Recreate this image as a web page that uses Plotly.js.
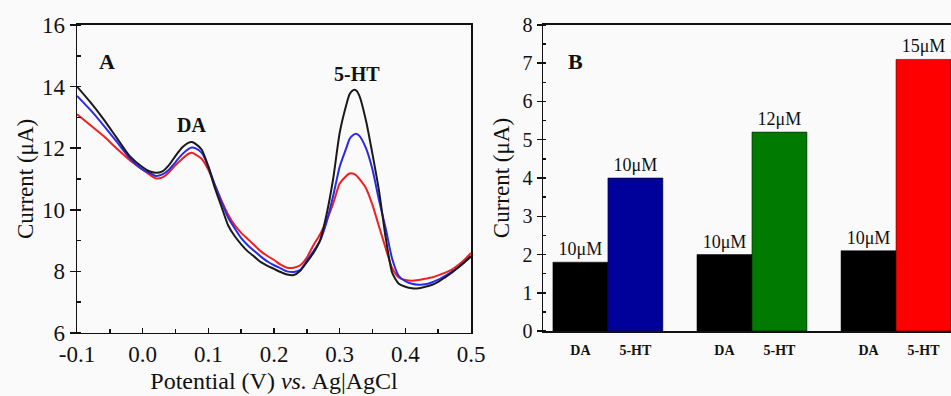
<!DOCTYPE html>
<html>
<head>
<meta charset="utf-8">
<script src="https://cdn.plot.ly/plotly-3.0.1.min.js"></script>
<style>html,body{margin:0;padding:0;background:#fafafa;}#chart{width:951px;height:396px;}</style>
</head>
<body>
<div id="chart"></div>
<script>
// ---- Panel A: DPV curves ----
const potential = [-0.1,-0.08,-0.06,-0.04,-0.02,0.0,0.01,0.02,0.03,0.04,0.05,0.06,0.07,0.075,0.08,0.09,0.1,0.11,0.12,0.13,0.14,0.15,0.16,0.17,0.18,0.19,0.2,0.21,0.22,0.23,0.24,0.25,0.26,0.27,0.28,0.29,0.3,0.31,0.315,0.32,0.325,0.33,0.34,0.35,0.36,0.37,0.38,0.39,0.4,0.41,0.42,0.43,0.44,0.45,0.46,0.47,0.48,0.49,0.5];
const currentBlack = [14.0,13.5,12.95,12.35,11.75,11.38,11.25,11.2,11.25,11.45,11.75,12.02,12.18,12.2,12.15,11.95,11.4,10.7,10.1,9.5,9.15,8.88,8.65,8.48,8.3,8.18,8.08,7.98,7.9,7.88,8.02,8.3,8.6,9.0,9.85,11.0,12.5,13.4,13.75,13.88,13.88,13.7,12.9,11.8,10.6,9.1,7.95,7.6,7.5,7.45,7.45,7.5,7.56,7.66,7.8,7.95,8.12,8.3,8.5];
const currentBlue = [13.7,13.25,12.75,12.22,11.68,11.3,11.2,11.1,11.15,11.3,11.55,11.8,11.98,12.02,12.0,11.85,11.4,10.8,10.25,9.75,9.4,9.08,8.85,8.66,8.48,8.32,8.2,8.1,8.0,7.98,8.05,8.35,8.65,9.0,9.6,10.45,11.4,12.0,12.3,12.42,12.47,12.4,12.0,11.3,10.3,9.4,8.4,7.85,7.68,7.6,7.57,7.58,7.64,7.73,7.85,7.98,8.12,8.3,8.48];
const currentRed = [13.1,12.75,12.4,12.0,11.62,11.3,11.15,11.02,11.05,11.22,11.45,11.65,11.82,11.85,11.8,11.65,11.3,10.8,10.3,9.85,9.5,9.25,9.05,8.85,8.65,8.5,8.37,8.22,8.12,8.12,8.2,8.45,8.85,9.2,9.65,10.2,10.85,11.1,11.18,11.18,11.12,11.0,10.7,10.15,9.45,8.75,8.1,7.8,7.72,7.7,7.72,7.76,7.8,7.87,7.95,8.05,8.2,8.38,8.6];
const potentialTicks = [-0.1, 0.0, 0.1, 0.2, 0.3, 0.4, 0.5];
const potentialTickText = ["-0.1", "0.0", "0.1", "0.2", "0.3", "0.4", "0.5"];

// ---- Panel B: bar chart ----
const groups = [0, 1, 2];
const daValues = [1.8, 2.0, 2.1];
const htValues = [4.0, 5.2, 7.1];
const daLabels = ["10μM", "10μM", "10μM"];
const htLabels = ["10μM", "12μM", "15μM"];
const barCategories = ["DA", "5-HT"];
const htColors = ["#00009a", "#007a00", "#ff0000"];

const serif = '"Liberation Serif", "Times New Roman", serif';
const groupStep = 2.62;
const daX = groups.map(g => g * groupStep - 0.5);
const htX = groups.map(g => g * groupStep + 0.5);
const tickVals = [], tickTexts = [];
groups.forEach((g, i) => { tickVals.push(daX[i], htX[i]); tickTexts.push(barCategories[0], barCategories[1]); });

const lineW = 2;
const traces = [
  {x: potential, y: currentRed, type: 'scatter', mode: 'lines', line: {color: '#ee2020', width: lineW, shape: 'spline', smoothing: 0.6}, xaxis: 'x', yaxis: 'y', hoverinfo: 'skip'},
  {x: potential, y: currentBlue, type: 'scatter', mode: 'lines', line: {color: '#2a2ae6', width: lineW, shape: 'spline', smoothing: 0.6}, xaxis: 'x', yaxis: 'y', hoverinfo: 'skip'},
  {x: potential, y: currentBlack, type: 'scatter', mode: 'lines', line: {color: '#1a1a1a', width: lineW, shape: 'spline', smoothing: 0.6}, xaxis: 'x', yaxis: 'y', hoverinfo: 'skip'},
  {x: daX, y: daValues, type: 'bar', width: 1, marker: {color: '#000000', line: {color: '#000', width: 0.5}},
   text: daLabels, textposition: 'outside', cliponaxis: false, textfont: {family: serif, size: 18, color: '#111'},
   xaxis: 'x2', yaxis: 'y2'},
  {x: htX, y: htValues, type: 'bar', width: 1, marker: {color: htColors, line: {color: '#000', width: 0.5}},
   text: htLabels, textposition: 'outside', cliponaxis: false, textfont: {family: serif, size: 18, color: '#111'},
   xaxis: 'x2', yaxis: 'y2'}
];

const axisCommon = {showgrid: false, zeroline: false, showline: true, linecolor: '#111', linewidth: 1.5, mirror: true,
  ticks: 'outside', ticklen: 6, tickwidth: 1.5, tickcolor: '#111'};

const layout = {
  width: 951, height: 396,
  margin: {l: 0, r: 0, t: 0, b: 0},
  paper_bgcolor: '#fafafa', plot_bgcolor: '#fafafa',
  showlegend: false,
  font: {family: serif, color: '#111'},
  xaxis: Object.assign({}, axisCommon, {
    domain: [0.081, 0.4953], range: [-0.1, 0.5],
    tickmode: 'array', tickvals: potentialTicks, ticktext: potentialTickText,
    ticks: 'inside', ticklen: 5,
    tickfont: {family: serif, size: 23, color: '#111'},
    minor: {dtick: 0.05, ticks: 'inside', ticklen: 4, tickcolor: '#111'},
    title: {text: 'Potential (V) <i>vs.</i> Ag|AgCl', font: {family: serif, size: 24, color: '#111'}, standoff: 6},
    anchor: 'y'
  }),
  yaxis: Object.assign({}, axisCommon, {
    domain: [0.1591, 0.9369], range: [6, 16], dtick: 2,
    tickfont: {family: serif, size: 23, color: '#111'},
    minor: {dtick: 1, ticks: 'inside', ticklen: 4, tickcolor: '#111'},
    title: {text: 'Current (μA)', font: {family: serif, size: 23, color: '#111'}, standoff: 2},
    anchor: 'x'
  }),
  xaxis2: Object.assign({}, axisCommon, {
    domain: [0.571, 1], range: [-1.18, 2 * groupStep + 1.0], ticks: '',
    tickmode: 'array', tickvals: tickVals, ticktext: tickTexts,
    ticklabelstandoff: 6,
    tickfont: {family: serif, size: 14, color: '#111', weight: 'bold'},
    anchor: 'y2'
  }),
  yaxis2: Object.assign({}, axisCommon, {
    domain: [0.1641, 0.9369], range: [0, 8], dtick: 1, ticklen: 5,
    tickfont: {family: serif, size: 20, color: '#111'},
    minor: {dtick: 0.5, ticks: 'inside', ticklen: 3, tickcolor: '#111'},
    title: {text: 'Current (μA)', font: {family: serif, size: 23, color: '#111'}, standoff: 6},
    anchor: 'x2'
  }),
  annotations: [
    {text: '<b>A</b>', xref: 'x domain', yref: 'y domain', x: 0.051, y: 0.929, showarrow: false, font: {family: serif, size: 22, color: '#111'}},
    {text: '<b>DA</b>', xref: 'x', yref: 'y', x: 0.075, y: 12.75, showarrow: false, font: {family: serif, size: 20, color: '#111'}},
    {text: '<b>5-HT</b>', xref: 'x', yref: 'y', x: 0.326, y: 14.4, showarrow: false, font: {family: serif, size: 20, color: '#111'}},
    {text: '<b>B</b>', xref: 'x2 domain', yref: 'y2 domain', x: 0.056, y: 0.928, showarrow: false, font: {family: serif, size: 22, color: '#111'}}
  ]
};

Plotly.newPlot('chart', traces, layout, {staticPlot: true, displayModeBar: false});
</script>
</body>
</html>
